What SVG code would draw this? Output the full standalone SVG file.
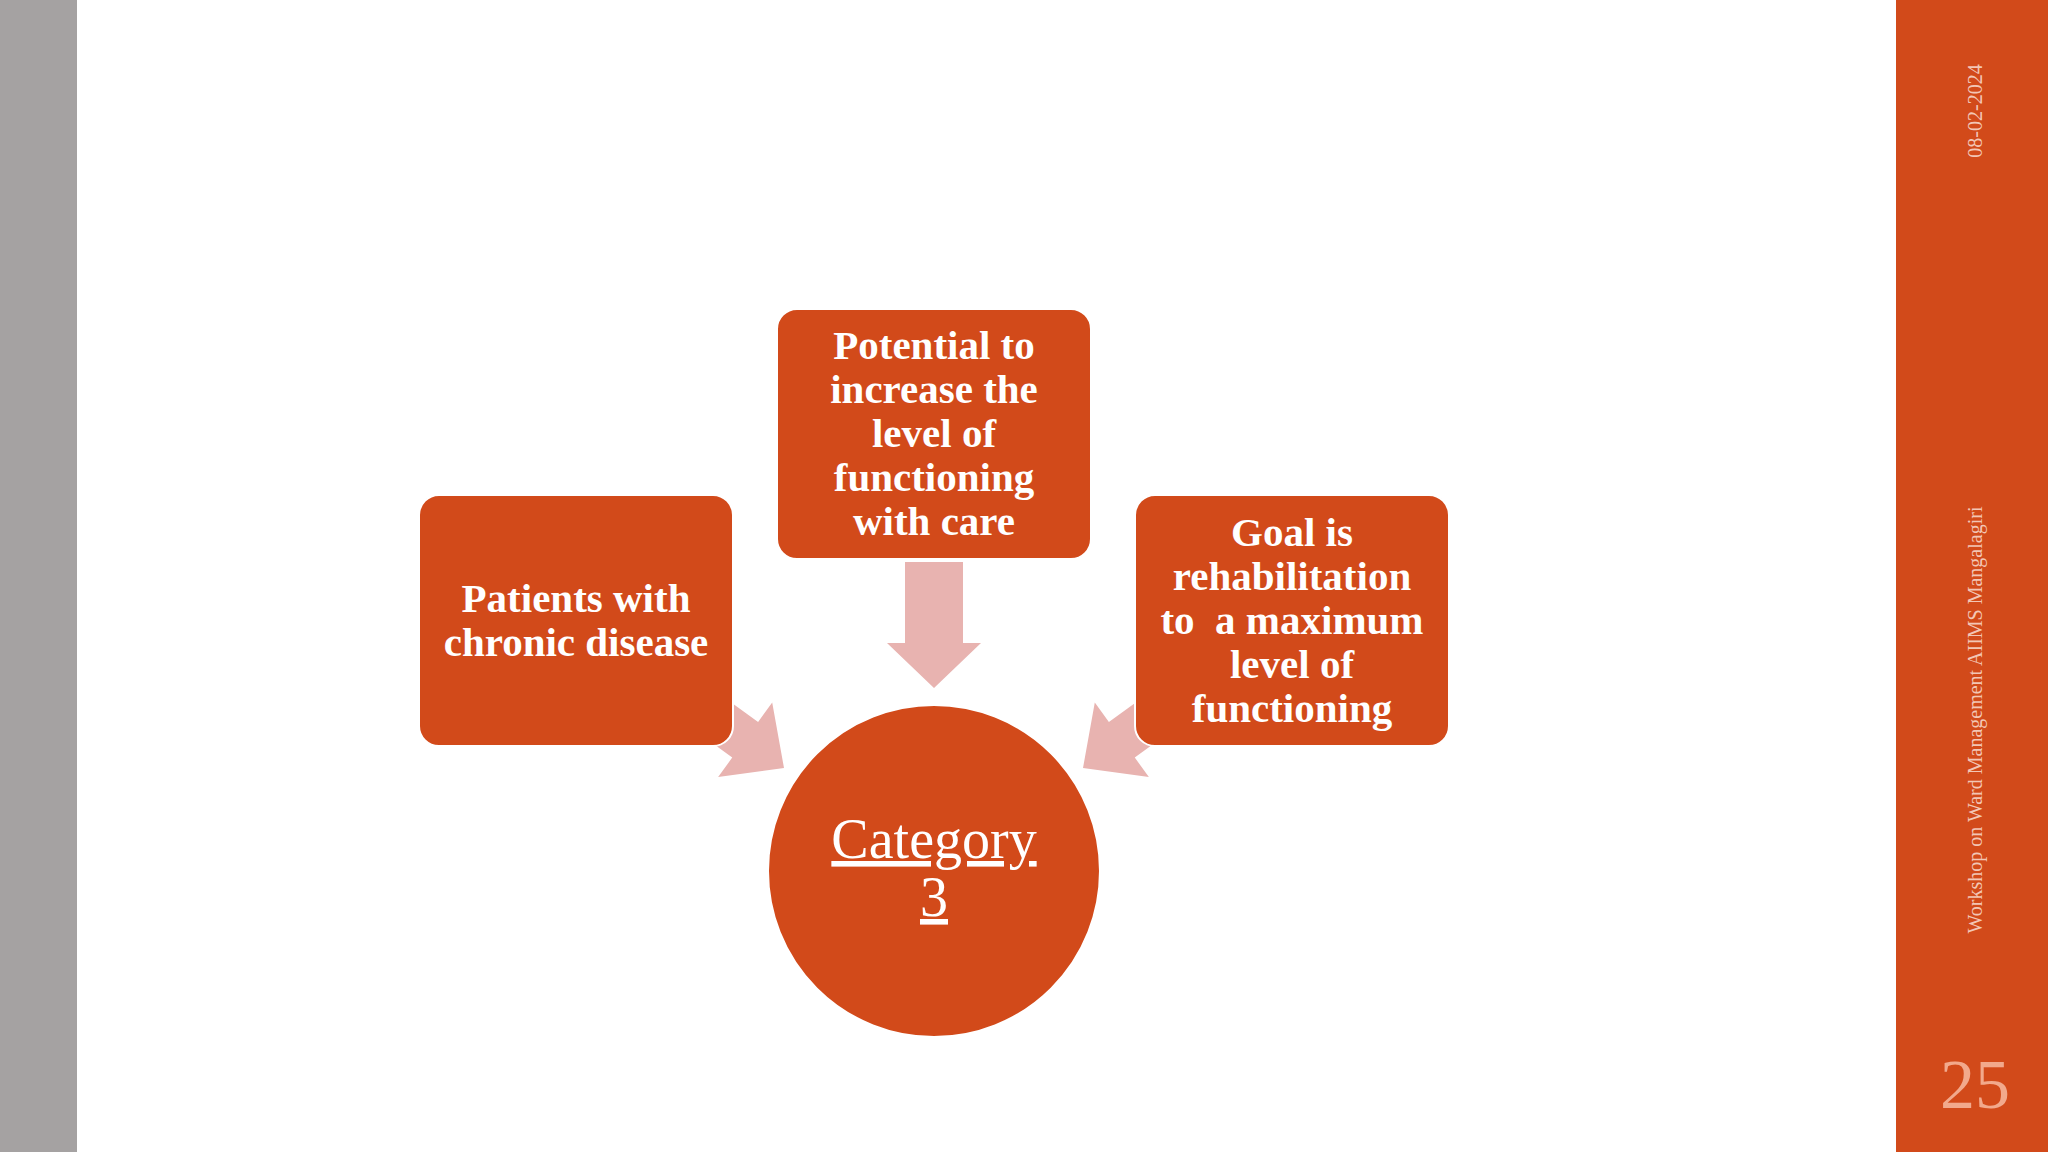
<svg xmlns="http://www.w3.org/2000/svg" width="2048" height="1152" viewBox="0 0 2048 1152">
<style>
.box{fill:#D24A1A;stroke:#fff;stroke-width:2}
.arr{fill:#E8B3B0}
.t{font-family:"Liberation Serif",serif;font-weight:bold;font-size:41px;fill:#fff;text-anchor:middle}
.side{font-family:"Liberation Serif",serif;fill:#F2C6B5;font-size:20px}
</style>
<rect width="2048" height="1152" fill="#fff"/>
<rect x="0" y="0" width="77" height="1152" fill="#A5A2A2"/>
<rect x="1896" y="0" width="152" height="1152" fill="#D24A1A"/>
<text class="side" transform="translate(1982,111) rotate(-90)" text-anchor="middle">08-02-2024</text>
<text class="side" transform="translate(1982,720) rotate(-90)" text-anchor="middle">Workshop on Ward Management AIIMS Mangalagiri</text>
<text x="1975" y="1108" font-family="Liberation Serif,serif" font-size="70" fill="#F2A98C" text-anchor="middle">25</text>
<g id="connectors">
<path class="arr" d="M905,562 H963 V643 H981 L934,688 L887,643 H905 Z"/>
<path class="arr" transform="translate(784,768) rotate(36)" d="M-100,-22 H-48 V-46 L0,0 L-48,46 V22 H-100 Z"/>
<path class="arr" transform="translate(1083,768) rotate(144)" d="M-100,-22 H-48 V-46 L0,0 L-48,46 V22 H-100 Z"/>
</g>
<g id="top"><rect class="box" x="777" y="309" width="314" height="250" rx="20"/>
<text class="t"><tspan x="934" y="359">Potential to</tspan><tspan x="934" y="403">increase the</tspan><tspan x="934" y="447">level of</tspan><tspan x="934" y="491">functioning</tspan><tspan x="934" y="535">with care</tspan></text></g>
<g id="left"><rect class="box" x="419" y="495" width="314" height="251" rx="20"/>
<text class="t"><tspan x="576" y="612">Patients with</tspan><tspan x="576" y="656">chronic disease</tspan></text></g>
<g id="right"><rect class="box" x="1135" y="495" width="314" height="251" rx="20"/>
<text class="t"><tspan x="1292" y="546">Goal is</tspan><tspan x="1292" y="590">rehabilitation</tspan><tspan x="1292" y="634" xml:space="preserve">to  a maximum</tspan><tspan x="1292" y="678">level of</tspan><tspan x="1292" y="722">functioning</tspan></text></g>
<g id="center"><circle cx="934" cy="871" r="166" fill="#D24A1A" stroke="#fff" stroke-width="2"/>
<text font-family="Liberation Serif,serif" font-size="56" fill="#fff" text-anchor="middle" text-decoration="underline"><tspan x="934" y="858">Category</tspan><tspan x="934" y="916">3</tspan></text></g>
</svg>
